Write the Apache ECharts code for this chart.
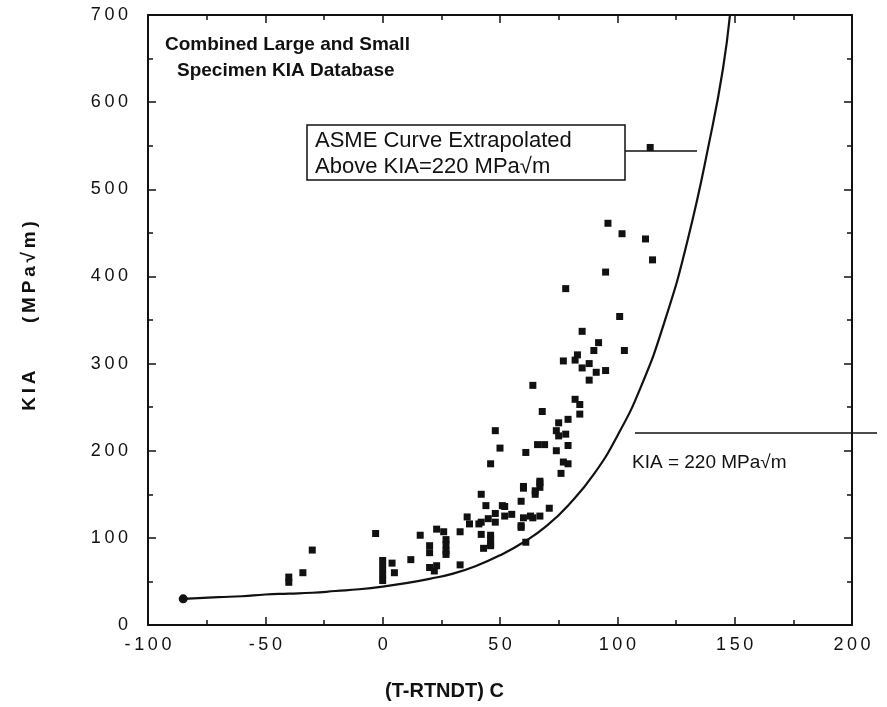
<!DOCTYPE html>
<html>
<head>
<meta charset="utf-8">
<script src="https://cdn.jsdelivr.net/npm/echarts@6/dist/echarts.min.js"></script>
<style>
  html, body { margin: 0; background: #fff; }
  #chart { width: 887px; height: 707px; }
</style>
</head>
<body>
<div id="chart"></div>
<script>
// ASME KIA reference curve
const curveT = [-85, -70, -60, -50, -40, -30, -20, -10, 0, 10, 20, 30, 40, 50, 60, 70, 80, 90, 100, 110, 120, 130, 140, 145, 148];
const curveK = [30, 32, 33, 35, 36, 37, 39, 41, 44, 48, 53, 59, 68, 80, 95, 114, 140, 173, 217, 273, 347, 442, 565, 638, 700];

// measured KIA values (T-RTNDT, KIA)
const pointsT = [-40, -40, -34, -30, -3, 0, 0, 0, 0, 4, 5, 12, 16, 20, 20, 20, 22, 23, 26, 27, 27, 23, 33, 33, 36, 37,
  42, 44, 42, 42, 43, 46, 46, 45, 48, 51, 52, 55, 59, 60, 59, 63, 65, 67, 67, 61, 64, 82, 84, 84, 79, 75, 68, 74, 75,
  78, 79, 74, 48, 50, 46, 61, 66, 69, 77, 79, 76, 60, 67, 67, 65, 52, 71, 41, 48, 60, 64, 59, 46, 46, 27, 27, 115, 95,
  78, 101, 85, 92, 90, 103, 83, 77, 82, 88, 85, 91, 95, 88, 114, 96, 102, 112];
const pointsK = [55, 49, 60, 86, 105, 74, 66, 58, 51, 71, 60, 75, 103, 91, 83, 66, 62, 110, 107, 98, 85, 68, 107, 69, 124, 116,
  150, 137, 118, 104, 88, 99, 93, 122, 128, 137, 125, 127, 142, 159, 114, 125, 154, 163, 125, 95, 275, 259, 253, 242, 236, 232, 245, 223, 217,
  219, 206, 200, 223, 203, 185, 198, 207, 207, 187, 185, 174, 157, 165, 158, 150, 136, 134, 116, 118, 123, 123, 112, 103, 91, 92, 81, 419, 405,
  386, 354, 337, 324, 315, 315, 310, 303, 304, 300, 295, 290, 292, 281, 548, 461, 449, 443];

const startT = [-85];
const startK = [30];

const xTickValues = [-100, -50, 0, 50, 100, 150, 200];
const yTickValues = [0, 100, 200, 300, 400, 500, 600, 700];

(function () {
  const chart = echarts.init(document.getElementById('chart'));
  const ink = '#111';
  const spaced = v => String(v).split('').join('\u2009');
  const tickFont = { color: ink, fontSize: 18, fontFamily: 'Liberation Sans, Arial, sans-serif', formatter: spaced };
  const narrow = '"Liberation Sans Narrow", "Liberation Sans", sans-serif';

  function frameAxis(extra) {
    return Object.assign({
      type: 'value',
      axisLine: { show: true, onZero: false, lineStyle: { color: ink, width: 2 } },
      axisTick: { show: true, inside: true, length: 8, lineStyle: { color: ink, width: 1.5 } },
      minorTick: { show: true, splitNumber: 2, length: 5, lineStyle: { color: ink, width: 1.5 } },
      splitLine: { show: false }
    }, extra);
  }

  const xMin = xTickValues[0], xMax = xTickValues[xTickValues.length - 1];
  const yMin = yTickValues[0], yMax = yTickValues[yTickValues.length - 1];

  const option = {
    animation: false,
    backgroundColor: '#fff',
    grid: { left: 148, right: 35, top: 15, bottom: 82 },
    xAxis: [
      frameAxis({ position: 'bottom', min: xMin, max: xMax, interval: 50, axisLabel: Object.assign({ margin: 11 }, tickFont) }),
      frameAxis({ position: 'top', min: xMin, max: xMax, interval: 50, axisLabel: { show: false } })
    ],
    yAxis: [
      frameAxis({ position: 'left', min: yMin, max: yMax, interval: 100, axisLabel: Object.assign({ margin: 20 }, tickFont) }),
      frameAxis({ position: 'right', min: yMin, max: yMax, interval: 100, axisLabel: { show: false } })
    ],
    series: [
      {
        name: 'ASME',
        type: 'line',
        smooth: true,
        showSymbol: false,
        lineStyle: { color: ink, width: 2.2 },
        data: curveT.map((t, i) => [t, curveK[i]])
      },
      {
        name: 'start',
        type: 'scatter',
        symbol: 'circle',
        symbolSize: 9,
        itemStyle: { color: ink, opacity: 1 },
        data: startT.map((t, i) => [t, startK[i]])
      },
      {
        name: 'KIA data',
        type: 'scatter',
        symbol: 'rect',
        symbolSize: 7,
        itemStyle: { color: ink, opacity: 1 },
        data: pointsT.map((t, i) => [t, pointsK[i]])
      }
    ],
    graphic: [
      { type: 'text', x: 165, y: 45, style: { text: 'Combined Large and Small', fill: ink, font: 'bold 19px ' + narrow, verticalAlign: 'middle' } },
      { type: 'text', x: 177, y: 71, style: { text: 'Specimen KIA Database', fill: ink, font: 'bold 19px ' + narrow, verticalAlign: 'middle' } },
      { type: 'rect', shape: { x: 307, y: 125, width: 318, height: 55 }, style: { fill: 'none', stroke: ink, lineWidth: 1.5 } },
      { type: 'text', x: 315, y: 141, style: { text: 'ASME Curve Extrapolated', fill: ink, font: '22px "Liberation Sans", sans-serif', verticalAlign: 'middle' } },
      { type: 'text', x: 315, y: 167, style: { text: 'Above KIA=220 MPa\u221Am', fill: ink, font: '22px "Liberation Sans", sans-serif', verticalAlign: 'middle' } },
      { type: 'line', shape: { x1: 625, y1: 151, x2: 697, y2: 151 }, style: { stroke: ink, lineWidth: 1.5 } },
      { type: 'line', shape: { x1: 635, y1: 433, x2: 877, y2: 433 }, style: { stroke: ink, lineWidth: 1.5 } },
      { type: 'text', x: 632, y: 463, style: { text: 'KIA = 220 MPa\u221Am', fill: ink, font: '19px ' + narrow, verticalAlign: 'middle' } },
      { type: 'text', x: 385, y: 691, style: { text: '(T-RTNDT) C', fill: ink, font: 'bold 20px ' + narrow, verticalAlign: 'middle' } },
      {
        type: 'text', x: 30, y: 316, rotation: Math.PI / 2,
        style: { text: 'K\u2009I\u2009A         (\u2009M\u2009P\u2009a\u2009\u221A\u2009m\u2009)', fill: ink, font: 'bold 19px "Liberation Sans", sans-serif', align: 'center', verticalAlign: 'middle' }
      }
    ]
  };

  chart.setOption(option);
})();
</script>
</body>
</html>
